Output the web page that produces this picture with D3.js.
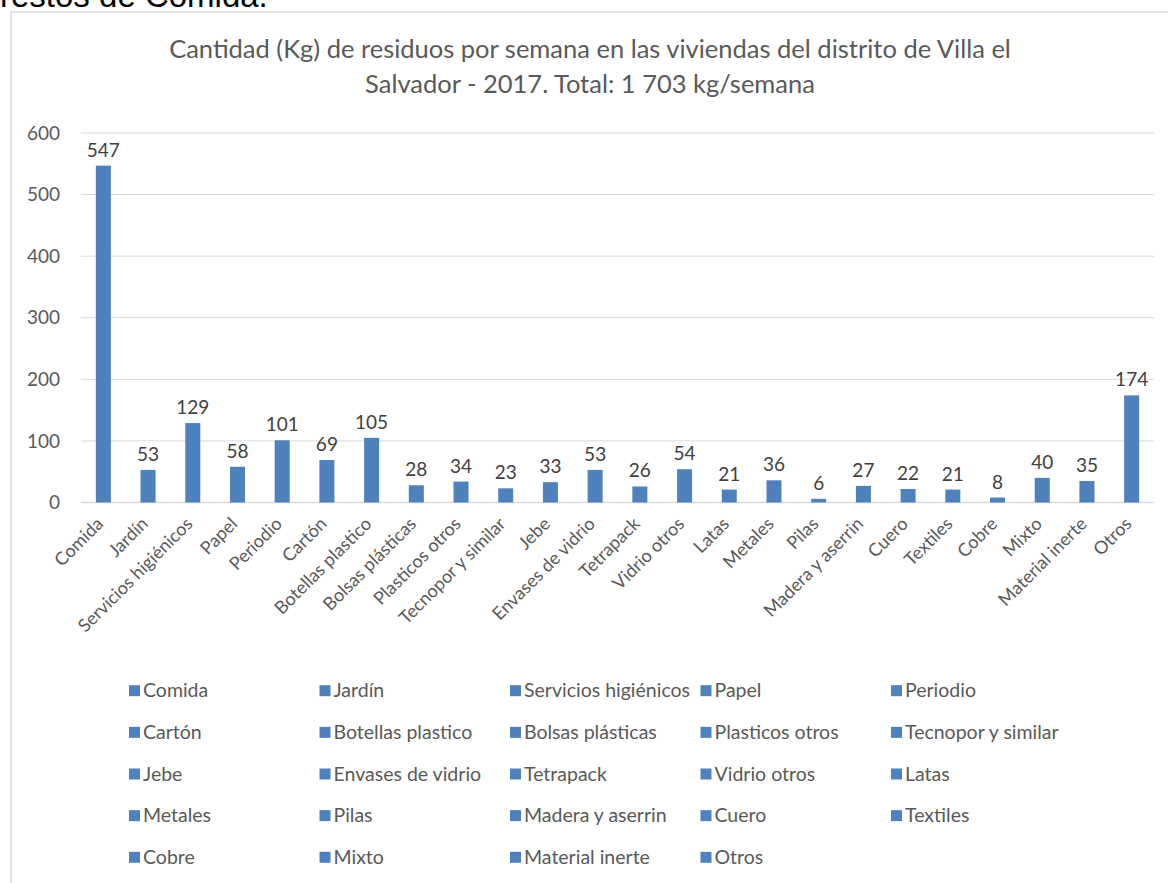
<!DOCTYPE html>
<html>
<head>
<meta charset="utf-8">
<script src="https://cdn.jsdelivr.net/npm/d3@7"></script>
<style>
    body { margin: 0; background: #fff; }
    svg text { font-family: Lato, "Open Sans", sans-serif; }
</style>
</head>
<body>
<svg id="chart" width="1168" height="883"></svg>
<script>
// data
const categories = ["Comida", "Jardín", "Servicios higiénicos", "Papel", "Periodio", "Cartón",
    "Botellas plastico", "Bolsas plásticas", "Plasticos otros", "Tecnopor y similar", "Jebe",
    "Envases de vidrio", "Tetrapack", "Vidrio otros", "Latas", "Metales", "Pilas",
    "Madera y aserrin", "Cuero", "Textiles", "Cobre", "Mixto", "Material inerte", "Otros"];
const values = [547, 53, 129, 58, 101, 69, 105, 28, 34, 23, 33, 53, 26, 54, 21, 36, 6, 27, 22, 21, 8, 40, 35, 174];
const yTicks = [0, 100, 200, 300, 400, 500, 600];
const titleLines = ["Cantidad (Kg) de residuos por semana en las viviendas del distrito de Villa el",
    "Salvador - 2017. Total: 1 703 kg/semana"];
const pageText = "restos de Comida.";

const barColor = "#4F81BD";
const gridColor = "#D9D9D9";

const svg = d3.select("#chart");

// text of the page above the chart (cut off at the top)
svg.append("text")
    .attr("x", 0)
    .attr("y", 7)
    .style("font-family", "'Liberation Sans', Arial, sans-serif")
    .style("font-size", "33px")
    .attr("fill", "#000")
    .text(pageText);

// chart border
svg.append("rect")
    .attr("x", 11)
    .attr("y", 12)
    .attr("width", 1170)
    .attr("height", 900)
    .attr("fill", "none")
    .attr("stroke", gridColor)
    .attr("stroke-width", 1.5);

// title
svg.append("g").selectAll("text")
    .data(titleLines)
    .enter().append("text")
    .attr("x", 590)
    .attr("y", (d, i) => 58 + i * 35)
    .attr("text-anchor", "middle")
    .attr("fill", "#595959")
    .style("font-size", "25.5px")
    .text(d => d);

// scales
const x = d3.scaleBand()
    .domain(categories)
    .range([81, 1154])
    .paddingInner(0.664)
    .paddingOuter(0.332);

const y = d3.scaleLinear()
    .domain([0, 600])
    .range([502.5, 133]);

// gridlines
svg.append("g").selectAll("line")
    .data(yTicks)
    .enter().append("line")
    .attr("x1", 81)
    .attr("x2", 1154)
    .attr("y1", d => y(d))
    .attr("y2", d => y(d))
    .attr("stroke", gridColor)
    .attr("stroke-width", d => d === 0 ? 1.5 : 1);

// y axis labels
const yAxis = svg.append("g")
    .attr("transform", "translate(81,0)")
    .call(d3.axisLeft(y).tickValues(yTicks).tickSize(0).tickPadding(21));
yAxis.select(".domain").remove();
yAxis.selectAll("text")
    .attr("fill", "#595959")
    .style("font-size", "19px")
    .style("font-family", "Lato, 'Open Sans', sans-serif");

// bars
svg.append("g").selectAll("rect")
    .data(values)
    .enter().append("rect")
    .attr("x", (d, i) => x(categories[i]))
    .attr("y", d => y(d))
    .attr("width", x.bandwidth())
    .attr("height", d => y(0) - y(d))
    .attr("fill", barColor);

// value labels
svg.append("g").selectAll("text")
    .data(values)
    .enter().append("text")
    .attr("x", (d, i) => x(categories[i]) + x.bandwidth() / 2)
    .attr("y", d => y(d) - 9)
    .attr("text-anchor", "middle")
    .attr("fill", "#404040")
    .style("font-size", "19px")
    .text(d => d);

// category labels, rotated
svg.append("g").selectAll("text")
    .data(categories)
    .enter().append("text")
    .attr("transform", d => "translate(" + (x(d) + x.bandwidth() / 2 + 1) + ",525)rotate(-45)")
    .attr("text-anchor", "end")
    .attr("fill", "#595959")
    .style("font-size", "18px")
    .text(d => d);

// legend, 5 columns
const legendCols = 5;
const legend = svg.append("g").selectAll("g")
    .data(categories)
    .enter().append("g")
    .attr("transform", (d, i) => "translate(" + (129 + (i % legendCols) * 190.5) + "," + (690.7 + Math.floor(i / legendCols) * 41.65) + ")");

legend.append("rect")
    .attr("x", 0)
    .attr("y", -5.5)
    .attr("width", 11)
    .attr("height", 11)
    .attr("fill", barColor);

legend.append("text")
    .attr("x", 14)
    .attr("y", 6.5)
    .attr("fill", "#595959")
    .style("font-size", "19.5px")
    .text(d => d);
</script>
</body>
</html>
